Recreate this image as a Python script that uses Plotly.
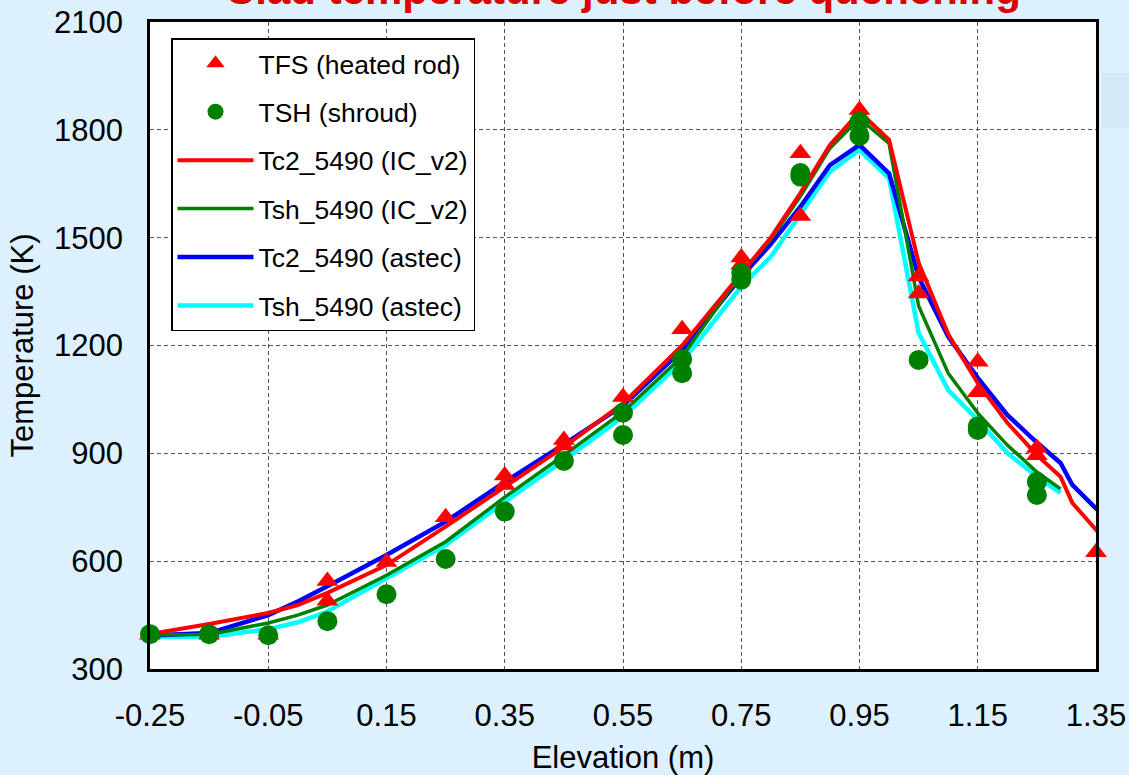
import plotly.graph_objects as go

# ---------------- data ----------------
TITLE = "Clad temperature just before quenching"

X_TFS = [-0.25, -0.15, -0.05, 0.05, 0.05, 0.15, 0.25, 0.35, 0.35, 0.45, 0.45, 0.55, 0.65,
         0.75, 0.75, 0.85, 0.85, 0.95, 1.05, 1.05, 1.15, 1.15, 1.25, 1.25, 1.35]
Y_TFS = [395, 395, 395, 545, 490, 598, 722, 838, 812, 937, 922, 1057, 1245,
         1445, 1425, 1735, 1560, 1855, 1392, 1345, 1155, 1070, 915, 895, 625]

X_TSH = [-0.25, -0.15, -0.05, 0.05, 0.15, 0.25, 0.35, 0.45, 0.55, 0.55, 0.65, 0.65,
         0.75, 0.75, 0.85, 0.85, 0.95, 0.95, 1.05, 1.15, 1.15, 1.25, 1.25]
Y_TSH = [397, 397, 394, 433, 508, 606, 738, 879, 1013, 951, 1162, 1123,
         1400, 1383, 1680, 1670, 1822, 1783, 1160, 975, 965, 821, 784]

X_ROD = [-0.25, -0.15, -0.05, 0.0, 0.05, 0.15, 0.25, 0.35, 0.45, 0.55, 0.65, 0.75, 0.8,
         0.85, 0.9, 0.95, 1.0, 1.05, 1.1, 1.15, 1.2, 1.25, 1.29, 1.31, 1.37]
TC2_IC = [397, 425, 456, 478, 512, 589, 696, 806, 918, 1039, 1200, 1400, 1500,
          1624, 1758, 1850, 1772, 1430, 1232, 1095, 985, 895, 835, 762, 650]
TC2_AS = [393, 400, 450, 488, 530, 617, 710, 820, 925, 1033, 1187, 1391, 1482,
          1586, 1702, 1758, 1679, 1390, 1225, 1110, 1007, 930, 873, 812, 714]

X_SHR = [-0.25, -0.15, -0.05, 0.0, 0.05, 0.15, 0.25, 0.35, 0.45, 0.55, 0.65, 0.75, 0.8,
         0.85, 0.9, 0.95, 1.0, 1.05, 1.1, 1.15, 1.2, 1.25, 1.29]
TSH_IC = [395, 396, 428, 450, 478, 561, 654, 778, 895, 1015, 1169, 1400, 1495,
          1615, 1749, 1832, 1762, 1310, 1123, 1012, 923, 848, 801]
TSH_AS = [390, 390, 411, 430, 460, 553, 645, 765, 881, 1002, 1155, 1364, 1447,
          1565, 1684, 1744, 1665, 1235, 1076, 993, 901, 835, 790]

X_TICKS = [-0.25, -0.05, 0.15, 0.35, 0.55, 0.75, 0.95, 1.15, 1.35]
X_TICKTEXT = ["-0.25", "-0.05", "0.15", "0.35", "0.55", "0.75", "0.95", "1.15", "1.35"]
Y_TICKS = [300, 600, 900, 1200, 1500, 1800, 2100]

# ---------------- figure ----------------
FONT = "Liberation Sans, Arial, sans-serif"
fig = go.Figure()

# lines (drawn bottom to top)
fig.add_trace(go.Scatter(x=X_SHR, y=TSH_AS, mode="lines", name="Tsh_5490 (astec)",
                         line=dict(color="#00ffff", width=4.5), legendrank=6, legendgroup="g6"))
fig.add_trace(go.Scatter(x=X_ROD, y=TC2_AS, mode="lines", name="Tc2_5490 (astec)",
                         line=dict(color="#0000ff", width=4.5), legendrank=5, legendgroup="g5"))
fig.add_trace(go.Scatter(x=X_SHR, y=TSH_IC, mode="lines", name="Tsh_5490 (IC_v2)",
                         line=dict(color="#008000", width=3.5), legendrank=4, legendgroup="g4"))
fig.add_trace(go.Scatter(x=X_ROD, y=TC2_IC, mode="lines", name="Tc2_5490 (IC_v2)",
                         line=dict(color="#ff0000", width=4), legendrank=3, legendgroup="g3"))
# experimental points
fig.add_trace(go.Scatter(x=X_TFS, y=Y_TFS, mode="markers", name="TFS (heated rod)",
                         marker=dict(symbol="triangle-up", size=19, color="#ff0000"),
                         cliponaxis=False, legendrank=1, legendgroup="g1"))
fig.add_trace(go.Scatter(x=X_TSH, y=Y_TSH, mode="markers", name="TSH (shroud)",
                         marker=dict(symbol="circle", size=20, color="#008000"),
                         cliponaxis=False, legendrank=2, legendgroup="g2"))

W, H = 1129, 775
ML, MR, MT, MB = 150, 33, 22, 106
PH = H - MT - MB
PW = W - ML - MR

grid = dict(showgrid=True, gridcolor="#555555", gridwidth=1, griddash="4px,3px")

fig.update_layout(
    width=W, height=H,
    margin=dict(l=ML, r=MR, t=MT, b=MB, pad=0, autoexpand=False),
    paper_bgcolor="#dcf0fd",
    plot_bgcolor="#ffffff",
    font=dict(family=FONT, color="#000000", size=31),
    showlegend=True,
    legend=dict(
        x=(171 - ML) / PW, y=1 - (38 - MT) / PH, xanchor="left", yanchor="top",
        bgcolor="#ffffff", bordercolor="#000000", borderwidth=1.5,
        font=dict(family=FONT, size=26.5, color="#000000"),
        traceorder="grouped", tracegroupgap=11, itemwidth=76,
    ),
    xaxis=dict(
        range=[-0.25, 1.35], tickvals=X_TICKS, ticktext=X_TICKTEXT,
        ticks="outside", ticklen=17, tickcolor="rgba(0,0,0,0)",
        showline=True, linecolor="#000000", linewidth=2.5, mirror=True,
        zeroline=False, tickfont=dict(size=31), automargin=False,
        title=dict(text="Elevation (m)", font=dict(size=31), standoff=24),
        **grid,
    ),
    yaxis=dict(
        range=[300, 2100], tickvals=Y_TICKS,
        ticks="outside", ticklen=18, tickcolor="rgba(0,0,0,0)",
        showline=True, linecolor="#000000", linewidth=2.5, mirror=True,
        zeroline=False, tickfont=dict(size=31), automargin=False,
        title=dict(text="Temperature (K)", font=dict(size=31), standoff=12),
        **grid,
    ),
    annotations=[dict(
        text="<b>" + TITLE + "</b>", xref="paper", yref="paper",
        x=0.5, y=1 + (MT - 15) / PH, xanchor="center", yanchor="bottom",
        showarrow=False, font=dict(family=FONT, size=42, color="#dd0000"),
    )],
    shapes=[dict(
        type="rect", xref="paper", yref="paper", layer="below",
        x0=(1102 - ML) / PW, x1=(1129 - ML) / PW,
        y0=1 - (128 - MT) / PH, y1=1 - (73 - MT) / PH,
        fillcolor="#d3e9f6", line=dict(width=0),
    )],
)

fig.write_html("out.html")
